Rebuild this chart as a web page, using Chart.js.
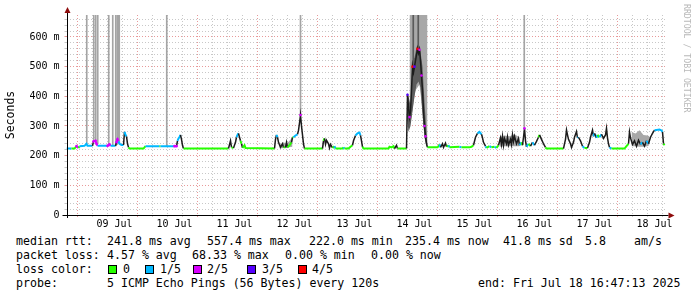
<!DOCTYPE html>
<html>
<head>
<meta charset="utf-8">
<script src="https://cdn.jsdelivr.net/npm/chart.js@4.4.1/dist/chart.umd.min.js"></script>
<style>
html, body { margin: 0; padding: 0; background: #fff; }
#wrap { position: relative; width: 697px; height: 297px; overflow: hidden; font-family: "DejaVu Sans Mono", monospace; }
#c { position: absolute; left: 0; top: 0; }
.t { position: absolute; font-size: 11.6px; line-height: 14px; white-space: pre; color: #000; }
.box { position: absolute; width: 7px; height: 7px; border: 1px solid #000; }
#credit { position: absolute; left: 681px; top: 4px; writing-mode: vertical-rl; font-size: 8.2px; line-height: 11px; color: #b8b8b8; white-space: pre; }
</style>
</head>
<body>
<div id="wrap">
  <canvas id="c" width="697" height="232"></canvas>
  <div id="credit">RRDTOOL / TOBI OETIKER</div>
  <div id="legend"></div>
</div>
<script>
// time axis: hours since Jul 08 16:47:13 (graph start), 10 days shown
const spanHours = 240;
const firstMidnight = 7 + 13 / 60;          // Jul 09 00:00
const dayLabels = ['09 Jul', '10 Jul', '11 Jul', '12 Jul', '13 Jul', '14 Jul', '15 Jul', '16 Jul', '17 Jul', '18 Jul'];
const yMax = 674;                            // ms at top of plot

// median rtt (ms) and loss class (0..4 of 5 pings)
const medT = [0, 1.2, 2, 3.2, 4, 4.8, 5.2, 7.2, 8, 8.4, 10.4, 10.8, 11.6, 12, 12.4, 16, 16.4, 17.2, 17.6, 19.6,
  20, 20.4, 20.8, 21.2, 22, 22.8, 23.2, 23.6, 24, 24.4, 24.8, 25.2, 30.8, 31.6, 37.2, 37.6, 42.8, 43.2, 44, 44.4,
  44.8, 45.2, 45.6, 46, 46.4, 46.8, 64.8, 65.6, 66, 66.8, 67.6, 68, 68.4, 68.8, 69.2, 69.6, 70, 70.4, 71.2, 71.6,
  83.2, 83.6, 84, 84.4, 84.8, 85.6, 86.4, 86.8, 87.6, 88, 88.4, 89.2, 90, 90.4, 90.8, 91.6, 92.4, 92.8, 93.2, 93.6,
  94, 94.4, 94.8, 95.2, 102.4, 102.8, 103.2, 103.6, 104, 104.8, 105.2, 105.6, 106.4, 107.2, 107.6, 110.4, 110.8, 111.2, 112.8, 113.6,
  114.4, 114.8, 115.6, 116.4, 117.2, 117.6, 118, 118.4, 118.8, 128.8, 129.2, 130, 130.8, 131.2, 132, 132.4, 136, 136.4, 136.8, 137.2,
  137.6, 138, 138.4, 138.8, 139.2, 139.6, 140, 140.4, 140.8, 141.2, 141.6, 142, 142.4, 142.8, 143.2, 143.6, 144, 144.4, 148.4, 148.8,
  149.2, 149.6, 150.4, 150.8, 151.6, 152, 152.8, 153.2, 157.2, 158, 161.2, 162, 162.8, 163.6, 164.4, 165.2, 166, 166.4, 166.8, 167.6,
  168, 169.2, 170, 171.2, 172, 172.8, 173.6, 174, 174.4, 174.8, 175.2, 176, 176.4, 176.8, 177.6, 178, 178.4, 178.8, 179.2, 180,
  180.8, 181.2, 182, 182.4, 182.8, 183.2, 183.6, 184, 184.8, 185.6, 186.4, 187.2, 188, 188.8, 189.2, 190, 190.8, 191.6, 192, 198.8,
  199.2, 199.6, 200, 200.4, 200.8, 201.6, 202, 202.8, 203.2, 204, 204.4, 204.8, 205.6, 206.4, 207.2, 208.4, 209.2, 209.6, 210.4, 210.8,
  211.2, 212, 212.4, 213.2, 214, 214.8, 215.6, 216, 216.4, 216.8, 217.2, 218, 223.2, 224, 224.8, 225.2, 225.6, 226.4, 227.2, 228,
  228.8, 229.6, 230.4, 231.2, 232, 232.8, 233.6, 234.4, 235.2, 237.2, 238, 238.4, 238.8, 239.2];
const medV = [224, 224, 224, 224, 232, 226, 232, 233, 240, 233, 233, 248, 250, 240, 233, 233, 233, 238, 233, 233,
  245, 255, 248, 240, 236, 236, 280, 270, 265, 240, 228, 224, 224, 232, 232, 232, 232, 232, 232, 250,
  258, 262, 270, 255, 235, 224, 224, 250, 228, 226, 245, 262, 270, 275, 262, 250, 240, 226, 235, 226,
  224, 255, 270, 262, 245, 228, 240, 228, 228, 245, 228, 235, 245, 262, 262, 268, 272, 285, 310, 337,
  300, 270, 240, 224, 224, 250, 258, 238, 252, 240, 226, 238, 226, 232, 224, 224, 228, 224, 224, 230,
  235, 250, 268, 275, 278, 268, 250, 230, 224, 224, 230, 228, 232, 224, 235, 224, 224, 405, 360, 330,
  350, 420, 500, 480, 500, 520, 540, 560, 545, 557, 520, 470, 420, 350, 300, 265, 240, 228, 228, 232,
  238, 228, 240, 228, 242, 230, 235, 228, 230, 228, 228, 230, 235, 262, 275, 280, 272, 260, 245, 232,
  226, 232, 228, 230, 226, 235, 260, 238, 265, 235, 258, 240, 262, 235, 255, 238, 270, 248, 265, 240,
  258, 235, 245, 235, 262, 292, 250, 230, 240, 232, 245, 235, 248, 262, 270, 255, 240, 228, 224, 224,
  240, 255, 286, 270, 255, 240, 228, 245, 262, 281, 260, 262, 250, 232, 226, 226, 245, 262, 286, 265,
  275, 260, 270, 262, 272, 258, 270, 292, 260, 240, 228, 224, 224, 232, 240, 280, 260, 238, 250, 232,
  252, 238, 245, 232, 250, 240, 262, 275, 286, 288, 285, 280, 240, 235];
const medL = [1, 1, 0, 0, 2, 0, 1, 1, 1, 1, 1, 2, 2, 2, 1, 1, 2, 2, 1, 1,
  2, 2, 1, 1, 1, 1, 1, 1, 1, 1, 0, 0, 0, 1, 0, 1, 1, 2, 2, 1,
  1, 1, 1, 0, 0, 0, 0, 0, 0, 1, 0, 1, 1, 1, 1, 0, 0, 0, 0, 0,
  0, 1, 1, 0, 1, 0, 0, 0, 0, 0, 0, 0, 0, 0, 1, 1, 1, 1, 1, 2,
  0, 0, 0, 0, 0, 0, 1, 0, 1, 0, 0, 0, 0, 1, 0, 0, 1, 0, 0, 0,
  0, 0, 1, 1, 1, 0, 0, 0, 0, 0, 0, 0, 0, 0, 1, 0, 0, 3, 0, 2,
  0, 0, 4, 1, 3, 0, 1, 4, 0, 2, 0, 2, 0, 0, 2, 2, 0, 0, 0, 0,
  1, 0, 1, 0, 1, 0, 1, 0, 1, 0, 0, 0, 0, 0, 1, 1, 0, 0, 0, 1,
  0, 1, 0, 1, 0, 0, 0, 1, 0, 0, 1, 1, 0, 1, 0, 1, 0, 1, 0, 1,
  0, 1, 0, 1, 0, 2, 0, 1, 0, 1, 1, 0, 0, 0, 0, 0, 0, 0, 0, 0,
  0, 0, 1, 1, 0, 1, 1, 0, 0, 1, 1, 1, 1, 1, 0, 0, 0, 1, 0, 1,
  1, 1, 0, 1, 1, 1, 0, 1, 1, 1, 1, 0, 0, 0, 1, 0, 1, 0, 1, 1,
  0, 1, 1, 0, 1, 0, 1, 1, 1, 1, 1, 0, 0, 0];
const lossColors = ['#26ff00', '#00b8ff', '#d800ff', '#5500ff', '#ff0000'];
const lossNames = ['0', '1/5', '2/5', '3/5', '4/5'];

// smoke: pings that went off the top of the graph
const spikeT = [8.1, 10.9, 11.7, 12.5, 16.9, 18.5, 19.7, 20.3, 20.7, 21.1, 40.1, 93.6, 183.1];
const spikeLo = [240, 248, 250, 240, 233, 233, 233, 245, 255, 248, 232, 337, 292];
const darkSpikeT = [138.7, 140.7];
const darkSpikeLo = [450, 480];

// light smoke (ping spread), null = break between patches
const lightT = [19.8, 20.4, 20.8, 21.6, 22, 85.2, 86.8, 88, 89.2, 90.4, 91,
  137.2, 138, 138.8, 139.6, 140.4, 141.2, 142, 142.8, 143.6, 144.4, 145,
  173.2, 175.2, 177.2, 179.2, 181.2, 182, 226, 227.6, 229.2, 230.8, 232.4, 233.2];
const lightLo = [236, 236, 240, 236, null, 224, 226, 226, 228, 230, null,
  300, 330, 380, 420, 430, 440, 380, 300, 260, 235, null,
  230, 232, 232, 232, 232, null, 232, 232, 230, 230, 232, 236];
const lightHi = [248, 268, 262, 245, null, 236, 245, 240, 250, 262, null,
  674, 674, 674, 674, 674, 674, 674, 674, 674, 674, null,
  262, 268, 265, 272, 262, null, 280, 275, 286, 270, 268, 265];

// dense smoke on Jul 14
const darkT = [136.2, 136.8, 137.6, 138.4, 139.2, 140, 140.8, 141.6, 142.4, 143.2, 144, 144.4];
const darkLo = [330, 280, 300, 350, 400, 440, 450, 430, 340, 260, 232, 228];
const darkHi = [410, 400, 370, 520, 530, 565, 580, 550, 500, 380, 280, 240];

const redGrid = '#e89a9a', grayGrid = '#c8c8c8';
const tickFont = { family: 'DejaVu Sans Mono', size: 10 };

const gridT = [];
for (let t = firstMidnight - 6; t <= spanHours; t += 6) gridT.push(t);
const isMidnight = v => Math.abs((((v - firstMidnight) % 24) + 24) % 24) < 0.01;
function dayLabel(v) {
  const i = Math.round((v - firstMidnight - 12) / 24);
  return (Math.abs(v - (firstMidnight + 12 + 24 * i)) < 0.01 && dayLabels[i]) ? dayLabels[i] : '';
}
const xGridColor = c => (c.tick && isMidnight(c.tick.value)) ? redGrid : grayGrid;
const yGridColor = c => (c.tick && c.tick.value % 100 === 0) ? redGrid : grayGrid;

const pts = (ts, vs) => ts.map((t, i) => ({ x: t, y: vs[i] }));

const axisArrows = {
  id: 'axisArrows',
  afterDatasetsDraw(chart) {
    const { ctx, chartArea: a } = chart;
    const yb = Math.round(a.bottom) + 0.5, xl = Math.round(a.left) + 0.5;
    ctx.save();
    ctx.strokeStyle = '#000'; ctx.lineWidth = 1;
    ctx.beginPath();
    ctx.moveTo(a.left - 4, yb); ctx.lineTo(a.right + 2, yb);
    ctx.moveTo(xl, a.bottom + 3); ctx.lineTo(xl, a.top - 2);
    ctx.stroke();
    ctx.fillStyle = '#8e0c0c';
    ctx.beginPath(); ctx.moveTo(a.right + 8, yb); ctx.lineTo(a.right + 2, yb - 3); ctx.lineTo(a.right + 2, yb + 3); ctx.fill();
    ctx.beginPath(); ctx.moveTo(xl, a.top - 8); ctx.lineTo(xl - 3, a.top - 2); ctx.lineTo(xl + 3, a.top - 2); ctx.fill();
    ctx.restore();
  }
};

// legend text below the graph
const rows = [
  [[16, 'median rtt:'], [107, '241.8 ms avg'], [207, '557.4 ms max'], [309, '222.0 ms min'], [405, '235.4 ms now'], [503, '41.8 ms sd'], [585, '5.8'], [634, 'am/s']],
  [[16, 'packet loss:'], [107, '4.57 % avg'], [192, '68.33 % max'], [285, '0.00 % min'], [371, '0.00 % now']],
  [[16, 'loss color:']],
  [[16, 'probe:'], [107, '5 ICMP Echo Pings (56 Bytes) every 120s'], [478, 'end: Fri Jul 18 16:47:13 2025']]
];
const boxX = [108, 145, 193, 247, 298];
const lblX = [123, 160, 207, 262, 312];
let html = '';
rows.forEach((r, i) => r.forEach(([x, s]) => { html += `<div class="t" style="left:${x}px;top:${234 + i * 14}px">${s}</div>`; }));
lossNames.forEach((n, i) => {
  html += `<div class="box" style="left:${boxX[i]}px;top:265px;background:${lossColors[i]}"></div>`;
  html += `<div class="t" style="left:${lblX[i]}px;top:262px">${n}</div>`;
});
document.getElementById('legend').innerHTML = html;

new Chart(document.getElementById('c'), {
  type: 'line',
  data: {
    datasets: [
      {
        data: pts(medT, medV), order: 0, borderWidth: 2, tension: 0,
        borderColor: lossColors[0],
        pointRadius: c => medL[c.dataIndex] >= 2 ? 1.3 : 0,
        pointBorderWidth: 0,
        pointBackgroundColor: c => lossColors[medL[c.dataIndex]],
        segment: {
          borderColor: c => {
            const dx = Math.abs(c.p1.x - c.p0.x), dy = Math.abs(c.p1.y - c.p0.y);
            return (dy > 3 && dy > dx * 1.5) ? '#1c1c1c' : lossColors[medL[c.p0DataIndex]];
          },
          borderWidth: c => {
            const dx = Math.abs(c.p1.x - c.p0.x), dy = Math.abs(c.p1.y - c.p0.y);
            return (dy > 3 && dy > dx * 1.5) ? 1.5 : 2;
          }
        }
      },
      { data: pts(darkT, darkHi), order: 1, borderWidth: 0, pointRadius: 0, fill: { target: 2 }, backgroundColor: '#5c5c5c' },
      { data: pts(darkT, darkLo), order: 1, borderWidth: 0, pointRadius: 0, fill: false },
      { type: 'bar', data: darkSpikeT.map((t, i) => ({ x: t, y: [darkSpikeLo[i], yMax] })), order: 2, backgroundColor: '#5a5a5a', barThickness: 1, grouped: false },
      { type: 'bar', data: spikeT.map((t, i) => ({ x: t, y: [spikeLo[i], yMax] })), order: 3, backgroundColor: '#a4a4a4', barThickness: 1, grouped: false },
      { data: pts(lightT, lightHi), order: 4, borderWidth: 0, pointRadius: 0, fill: { target: 6 }, backgroundColor: '#a8a8a8', spanGaps: false },
      { data: pts(lightT, lightLo), order: 4, borderWidth: 0, pointRadius: 0, fill: false, spanGaps: false }
    ]
  },
  options: {
    responsive: false, animation: false, devicePixelRatio: 1,
    layout: { padding: { left: 0, right: 30.5, top: 15, bottom: 0 } },
    plugins: { legend: { display: false }, tooltip: { enabled: false } },
    scales: {
      x: {
        type: 'linear', min: 0, max: spanHours, offset: false,
        afterBuildTicks: s => { s.ticks = gridT.map(v => ({ value: v })); },
        afterFit: s => { s.height = 17; },
        grid: { color: xGridColor, tickLength: 2, tickColor: xGridColor },
        border: { display: false, dash: [1, 2] },
        ticks: { autoSkip: false, maxRotation: 0, padding: 1, font: tickFont, color: '#000', callback: v => dayLabel(v) }
      },
      y: {
        min: 0, max: yMax,
        afterBuildTicks: s => { const t = []; for (let v = 0; v < yMax; v += 20) t.push({ value: v }); s.ticks = t; },
        afterFit: s => { s.width = 66.5; },
        grid: { color: yGridColor, tickLength: 2, tickColor: yGridColor },
        border: { display: false, dash: [1, 2] },
        ticks: { autoSkip: false, padding: 5, font: tickFont, color: '#000', callback: v => v % 100 ? '' : (v ? v + ' m' : '0') },
        title: { display: true, text: 'Seconds', color: '#000', font: { family: 'DejaVu Sans Mono', size: 11.5 }, padding: { top: 4, bottom: 0 } }
      }
    }
  },
  plugins: [axisArrows]
});
</script>
</body>
</html>
